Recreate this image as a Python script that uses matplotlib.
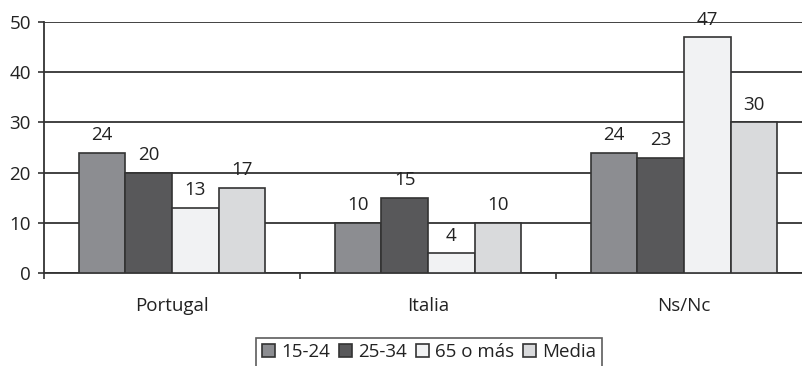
import numpy as np
import matplotlib
matplotlib.use('Agg')
import matplotlib.pyplot as plt

plt.rcParams['font.family'] = ['Open Sans', 'DejaVu Sans']

# datos
categorias = ['Portugal', 'Italia', 'Ns/Nc']
series = ['15-24', '25-34', '65 o más', 'Media']
v_15_24 = [24, 10, 24]
v_25_34 = [20, 15, 23]
v_65 = [13, 4, 47]
v_media = [17, 10, 30]
valores = [v_15_24, v_25_34, v_65, v_media]
colores = ['#8c8d91', '#58585a', '#f1f2f3', '#d9dadc']

fs = 13.5

fig = plt.figure(figsize=(8.02, 3.66), dpi=100)
# el eje se sale un poco por la derecha, como en el original
ax = fig.add_axes([44/802, 1 - 273/366, 768/802, (273 - 22)/366])

x = np.arange(len(categorias))
ancho = 0.182
for i, (serie, vals) in enumerate(zip(series, valores)):
    pos = x + (i - 1.5) * ancho
    barras = ax.bar(pos, vals, ancho, color=colores[i], edgecolor='#333333',
                    linewidth=1.2, label=serie, zorder=3)
    for b, v in zip(barras, vals):
        ax.annotate(str(v), (b.get_x() + b.get_width() / 2, v),
                    xytext=(0, 6), textcoords='offset points',
                    ha='center', va='bottom', fontsize=fs, color='#222222')

ax.set_ylim(0, 50)
ax.set_xlim(-0.5, 2.5)
ax.set_yticks(range(0, 51, 10))
ax.yaxis.grid(True, color='#333333', linewidth=1.3, zorder=0)
ax.set_axisbelow(True)

ax.set_xticks([-0.5, 0.5, 1.5])
ax.set_xticklabels([])
ax.set_xticks(x, minor=True)
ax.set_xticklabels(categorias, minor=True)
ax.tick_params(axis='x', which='minor', length=0, pad=17, labelsize=fs)
ax.tick_params(axis='x', which='major', length=4.5, width=1.2, color='#333333')
ax.tick_params(axis='y', length=4.5, width=1.2, color='#333333', labelsize=fs,
               pad=5, labelcolor='#222222')
ax.tick_params(axis='x', which='minor', labelcolor='#222222')

for lado in ['top', 'right']:
    ax.spines[lado].set_visible(False)
ax.spines['left'].set_color('#333333')
ax.spines['left'].set_linewidth(1.3)
ax.spines['bottom'].set_color('#333333')
ax.spines['bottom'].set_linewidth(1.3)

leg = fig.legend(loc='upper center', bbox_to_anchor=(0.535, 0.077), ncol=4,
                 frameon=True, fancybox=False, edgecolor='#333333',
                 fontsize=fs, handlelength=0.7, handleheight=0.7,
                 handletextpad=0.35, columnspacing=0.45, borderpad=0.3,
                 borderaxespad=0)
leg.get_frame().set_linewidth(1.2)
for t in leg.get_texts():
    t.set_color('#222222')

fig.savefig('out.png', dpi=100)
